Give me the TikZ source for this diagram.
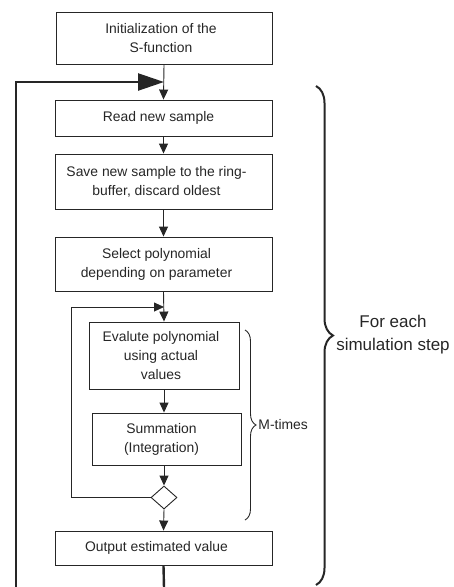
\documentclass[tikz,border=0pt]{standalone}
\usepackage{fontspec}
\setmainfont{Liberation Sans}
\usetikzlibrary{arrows.meta,shapes.geometric,decorations.pathreplacing}
\definecolor{ink}{HTML}{262626}
\begin{document}
\begin{tikzpicture}[x=1pt,y=-1pt,
  box/.style={draw=ink,line width=0.9pt,inner sep=0pt},
  boxtext/.style={text=ink,align=center,inner sep=0pt,xshift=-5pt,
    font=\fontsize{13.9}{19}\selectfont},
  conn/.style={draw=ink,line width=0.9pt},
  arr/.style={conn,-{Triangle[length=10pt,width=9pt]}},
  loopline/.style={draw=ink,line width=2.4pt},
  bigbrace/.style={draw=ink,line width=2pt,decorate,decoration={brace,amplitude=17pt}},
  smallbrace/.style={draw=ink,line width=0.9pt,decorate,decoration={brace,amplitude=11pt}},
  lbl/.style={text=ink,align=center,inner sep=0pt}]
\path[use as bounding box] (0,0) rectangle (453,587);
\node[box,minimum width=216pt,minimum height=52pt,label={[boxtext,xshift=2pt]center:Initialization of the\\S-function}] (init) at (164,38) {};
\node[box,minimum width=217pt,minimum height=36pt,label={[boxtext]center:Read new sample}] (read) at (163.5,118) {};
\node[box,minimum width=217pt,minimum height=55pt,label={[boxtext,xshift=-2pt]center:Save new sample to the ring-\\buffer, discard oldest}] (save) at (163.5,181.5) {};
\node[box,minimum width=217pt,minimum height=54pt,label={[boxtext,xshift=-2pt]center:Select polynomial\\depending on parameter}] (select) at (163.5,264) {};
\node[box,minimum width=150pt,minimum height=67pt,label={[boxtext,xshift=2pt]center:Evalute polynomial\\using actual\\values}] (eval) at (164,355.5) {};
\node[box,minimum width=149pt,minimum height=52pt,label={[boxtext]center:Summation\\(Integration)}] (summ) at (166.5,439) {};
\node[draw=ink,line width=0.9pt,diamond,minimum width=26pt,minimum height=23pt,inner sep=0pt] (dec) at (164,497.5) {};
\node[box,minimum width=217pt,minimum height=34pt,label={[boxtext,xshift=-2pt]center:Output estimated value}] (output) at (163.5,548) {};
\coordinate (join) at (164,82);
\coordinate (ijoin) at (164,307);
\coordinate (iloopTop) at (71,307);
\coordinate (iloopBot) at (71,497.5);
\coordinate (botR) at (164,588);
\coordinate (botL) at (16,588);
\coordinate (topL) at (16,82);
% main flow
\draw[arr] (init.south) -- (read.north);
\draw[arr] (read.south) -- (save.north);
\draw[arr] (save.south) -- (select.north);
\draw[arr] (select.south) -- (eval.north);
\draw[arr] (eval.south) -- (summ.north -| eval.south);
\draw[arr] (summ.south -| dec.north) -- (dec.north);
\draw[arr] (dec.south) -- (output.north);
% inner loop
\draw[conn,-{Triangle[length=10pt,width=9pt]}] (dec.west) -- (iloopBot) -- (iloopTop) -- (ijoin);
% outer loop
\draw[loopline] (output.south) -- (botR);
\draw[loopline,-{Triangle[length=26pt,width=17pt]}] (botL) -- (topL) -- (join);
% braces
\draw[smallbrace] (245,330) -- (245,520) node[midway,right=13pt,lbl,font=\fontsize{13.9}{17}\selectfont] (mt) {M-times};
\draw[bigbrace] (316,86) -- (316,585) coordinate[pos=0.5] (bmid);
\node[lbl,font=\fontsize{17}{23}\selectfont] (fe) at (393,335) {For each\\simulation step};
\end{tikzpicture}
\end{document}
